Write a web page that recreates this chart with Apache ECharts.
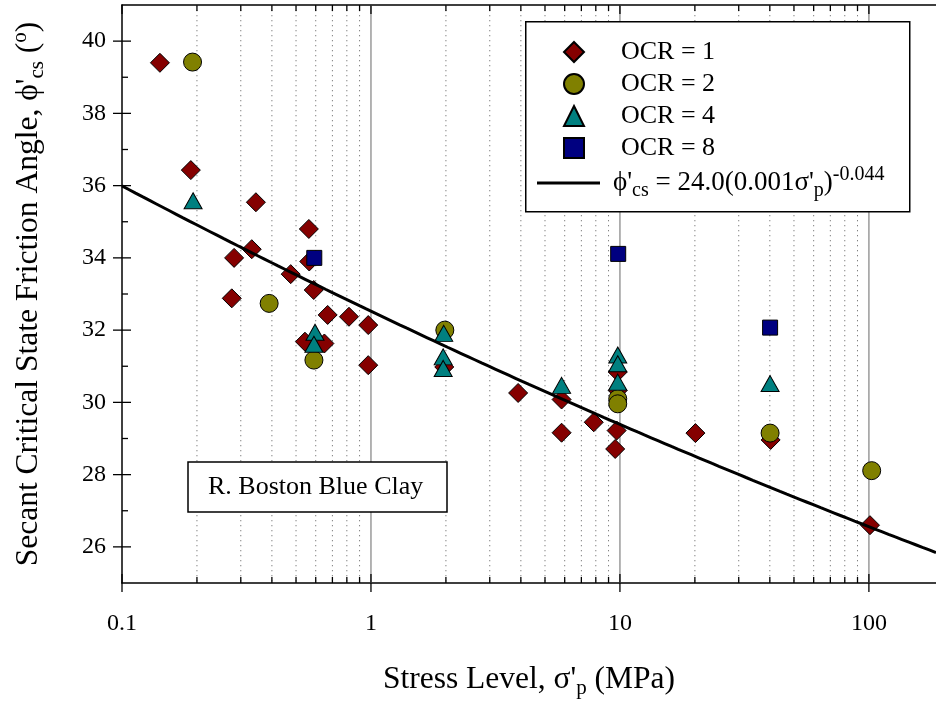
<!DOCTYPE html>
<html>
<head>
<meta charset="utf-8">
<script src="https://cdn.jsdelivr.net/npm/echarts@6/dist/echarts.min.js"></script>
<style>
  html, body { margin: 0; padding: 0; background: #fff; }
  #chart { width: 936px; height: 704px; }
</style>
</head>
<body>
<div id="chart"></div>
<script>
// Measured friction angles [stress level (MPa), secant phi'cs (deg)] by overconsolidation ratio
const ocr1 = [
  [0.142, 39.4], [0.189, 36.43], [0.345, 35.54], [0.332, 34.24], [0.282, 34.0],
  [0.276, 32.88], [0.476, 33.55], [0.563, 34.8], [0.565, 33.9], [0.589, 33.11],
  [0.543, 31.68], [0.65, 31.63], [0.67, 32.42], [0.816, 32.37], [0.975, 32.14],
  [0.975, 31.03], [1.97, 30.98], [3.9, 30.26], [5.83, 30.08], [5.83, 29.16],
  [7.85, 29.45], [9.8, 30.84], [9.8, 30.33], [9.7, 29.22], [9.57, 28.71],
  [20.1, 29.15], [40.3, 28.96], [101, 26.6]
];
const ocr2 = [
  [0.192, 39.42], [0.39, 32.74], [0.59, 31.17], [1.98, 32.0],
  [9.8, 30.1], [9.8, 29.96], [40.1, 29.15], [102.6, 28.11]
];
const ocr4 = [
  [0.193, 35.58], [0.596, 31.94], [0.59, 31.61], [1.96, 31.91], [1.95, 31.26],
  [1.95, 30.94], [5.83, 30.47], [9.8, 31.31], [9.8, 31.07], [9.8, 30.56], [40.1, 30.52]
];
const ocr8 = [
  [0.592, 34.0], [9.84, 34.11], [40.1, 32.07]
];

// Fitted relation phi'cs = A (k * sigma'p)^n
const FIT_A = 24.0;
const FIT_K = 0.001;
const FIT_N = -0.044;

// Axis ranges and tick positions
const X_MIN = 0.1, X_MAX = 186;
const Y_MIN = 25, Y_MAX = 41;
const xMajorTicks = [0.1, 1, 10, 100];
const xMinorTicks = [0.2, 0.3, 0.4, 0.5, 0.6, 0.7, 0.8, 0.9,
                     2, 3, 4, 5, 6, 7, 8, 9,
                     20, 30, 40, 50, 60, 70, 80, 90];
const yMajorTicks = [26, 28, 30, 32, 34, 36, 38, 40];
const yMinorTicks = [27, 29, 31, 33, 35, 37, 39];

const seriesNames = ['OCR = 1', 'OCR = 2', 'OCR = 4', 'OCR = 8'];
const FIT_NAME = 'fit';

// Fit curve sampled along the log axis
const fitLine = [];
const steps = 120;
for (let i = 0; i <= steps; i++) {
  const lx = Math.log10(X_MIN) + (Math.log10(X_MAX) - Math.log10(X_MIN)) * i / steps;
  const s = Math.pow(10, lx);
  fitLine.push([s, FIT_A * Math.pow(FIT_K * s, FIT_N)]);
}

const SERIF = '"Liberation Serif", "Times New Roman", serif';
const richTitle = {
  sub: { fontFamily: SERIF, fontSize: 21, verticalAlign: 'bottom', lineHeight: 21, color: '#000' },
  sup: { fontFamily: SERIF, fontSize: 21, verticalAlign: 'top', lineHeight: 21, color: '#000' }
};
const richLegend = {
  sub: { fontFamily: SERIF, fontSize: 20, verticalAlign: 'bottom', lineHeight: 20, color: '#000' },
  sup: { fontFamily: SERIF, fontSize: 20, verticalAlign: 'top', lineHeight: 20, color: '#000' }
};

// Tick marks and vertical grid lines, drawn through the axis scales
const xTickData = xMinorTicks.map(v => [v, Y_MIN, 0]).concat(xMajorTicks.map(v => [v, Y_MIN, 1]));
const yTickData = yMinorTicks.map(v => [X_MIN, v, 0]).concat(yMajorTicks.map(v => [X_MIN, v, 1]));

function renderXTicks(params, api) {
  const cs = params.coordSys;
  const px = api.coord([api.value(0), Y_MIN])[0];
  const major = api.value(2) === 1;
  const top = cs.y, bottom = cs.y + cs.height;
  const children = [];
  if (!major) {
    children.push({ type: 'line', shape: { x1: px, y1: top, x2: px, y2: bottom },
      style: { stroke: '#808080', lineWidth: 1, lineDash: [1.3, 3.7] } });
  } else if (api.value(0) > X_MIN) {
    children.push({ type: 'line', shape: { x1: px, y1: top, x2: px, y2: bottom },
      style: { stroke: '#9a9a9a', lineWidth: 1.5 } });
  }
  const inLen = major ? 9 : 6;
  const outLen = major ? 9 : 0;
  children.push({ type: 'line', shape: { x1: px, y1: bottom - inLen, x2: px, y2: bottom + outLen },
    style: { stroke: '#000', lineWidth: 1.3 } });
  children.push({ type: 'line', shape: { x1: px, y1: top, x2: px, y2: top + inLen },
    style: { stroke: '#000', lineWidth: 1.3 } });
  return { type: 'group', children };
}

function renderYTicks(params, api) {
  const cs = params.coordSys;
  const py = api.coord([X_MIN, api.value(1)])[1];
  const major = api.value(2) === 1;
  const left = cs.x;
  const inLen = major ? 9 : 6;
  const outLen = major ? 9 : 0;
  return { type: 'line', shape: { x1: left - outLen, y1: py, x2: left + inLen, y2: py },
    style: { stroke: '#000', lineWidth: 1.3 } };
}

const markerStyle = (color) => ({ color: color, borderColor: '#000', borderWidth: 1, opacity: 1 });

const chart = echarts.init(document.getElementById('chart'), null, { renderer: 'canvas' });
chart.setOption({
  animation: false,
  backgroundColor: '#fff',
  grid: { left: 122, top: 5, width: 814, height: 578, containLabel: false },
  xAxis: [{
    type: 'log', logBase: 10, min: X_MIN, max: X_MAX, position: 'bottom',
    axisLine: { show: true, lineStyle: { color: '#000', width: 1.5 } },
    axisTick: { show: false },
    splitLine: { show: false },
    minorTick: { show: false },
    axisLabel: {
      color: '#000', fontFamily: SERIF, fontSize: 24, margin: 29,
      showMinLabel: true, showMaxLabel: false,
      formatter: v => String(+(+v).toPrecision(3))
    },
    name: "Stress Level, σ'{sub|p} (MPa)",
    nameLocation: 'middle', nameGap: 78,
    nameTextStyle: { color: '#000', fontFamily: SERIF, fontSize: 31.5, lineHeight: 38, rich: richTitle }
  }, {
    type: 'log', logBase: 10, min: X_MIN, max: X_MAX, position: 'top',
    axisLine: { show: true, lineStyle: { color: '#000', width: 1.5 } },
    axisTick: { show: false }, axisLabel: { show: false }, splitLine: { show: false }
  }],
  yAxis: {
    type: 'value', min: Y_MIN, max: Y_MAX, interval: 1,
    axisLine: { show: true, lineStyle: { color: '#000', width: 1.5 } },
    axisTick: { show: false },
    splitLine: { show: false },
    axisLabel: {
      color: '#000', fontFamily: SERIF, fontSize: 24, margin: 16,
      formatter: v => (yMajorTicks.indexOf(v) >= 0 ? String(v) : '')
    },
    name: "Secant Critical State Friction Angle, \u03D5'{sub|cs} ({sup|o})",
    nameLocation: 'middle', nameGap: 74, nameRotate: 90,
    nameTextStyle: { color: '#000', fontFamily: SERIF, fontSize: 31.5, lineHeight: 38, rich: richTitle }
  },
  legend: [{
    orient: 'vertical', left: 563, top: 36, padding: 0, itemGap: 0,
    itemWidth: 20, itemHeight: 20, z: 20,
    data: [
      { name: seriesNames[0], icon: 'diamond' },
      { name: seriesNames[1], icon: 'circle' },
      { name: seriesNames[2], icon: 'triangle' },
      { name: seriesNames[3], icon: 'rect' }
    ],
    textStyle: { color: '#000', fontFamily: SERIF, fontSize: 26, lineHeight: 32, padding: [0, 0, 0, 32] }
  }, {
    orient: 'vertical', left: 537, top: 165, padding: 0, itemGap: 0,
    itemWidth: 63, itemHeight: 3, z: 20,
    data: [{ name: FIT_NAME, icon: 'rect' }],
    formatter: () => "\u03D5'{sub|cs} = 24.0(0.001σ'{sub|p}){sup|-0.044}",
    textStyle: { color: '#000', fontFamily: SERIF, fontSize: 27, lineHeight: 36, padding: [0, 0, 0, 8], rich: richLegend }
  }],
  title: {
    text: 'R. Boston Blue Clay', left: 188, top: 462, z: 10,
    padding: [11, 24, 11, 20], borderColor: '#000', borderWidth: 1.5, backgroundColor: '#fff',
    textStyle: { color: '#000', fontFamily: SERIF, fontSize: 26, fontWeight: 'normal', lineHeight: 28 }
  },
  graphic: [{
    type: 'rect', left: 525, top: 21, z: 10,
    shape: { width: 384, height: 190 },
    style: { fill: '#fff', stroke: '#000', lineWidth: 1.5 }
  }],
  series: [
    { type: 'custom', name: 'xticks', xAxisIndex: 0, renderItem: renderXTicks, data: xTickData,
      encode: { x: 0, y: 1 }, z: 1, silent: true, clip: false },
    { type: 'custom', name: 'yticks', xAxisIndex: 0, renderItem: renderYTicks, data: yTickData,
      encode: { x: 0, y: 1 }, z: 1, silent: true, clip: false },
    { type: 'scatter', name: seriesNames[0], data: ocr1, symbol: 'diamond', symbolSize: 19,
      itemStyle: markerStyle('#850000'), z: 2 },
    { type: 'scatter', name: seriesNames[1], data: ocr2, symbol: 'circle', symbolSize: 18,
      itemStyle: markerStyle('#808000'), z: 2 },
    { type: 'scatter', name: seriesNames[2], data: ocr4, symbol: 'triangle', symbolSize: [18, 16],
      itemStyle: markerStyle('#008080'), z: 2 },
    { type: 'scatter', name: seriesNames[3], data: ocr8, symbol: 'rect', symbolSize: 15,
      itemStyle: markerStyle('#000080'), z: 2 },
    { type: 'line', name: FIT_NAME, data: fitLine, symbol: 'none', showSymbol: false, smooth: false,
      lineStyle: { color: '#000', width: 3 }, itemStyle: { color: '#000', borderWidth: 0 }, z: 5 }
  ]
});
</script>
</body>
</html>
